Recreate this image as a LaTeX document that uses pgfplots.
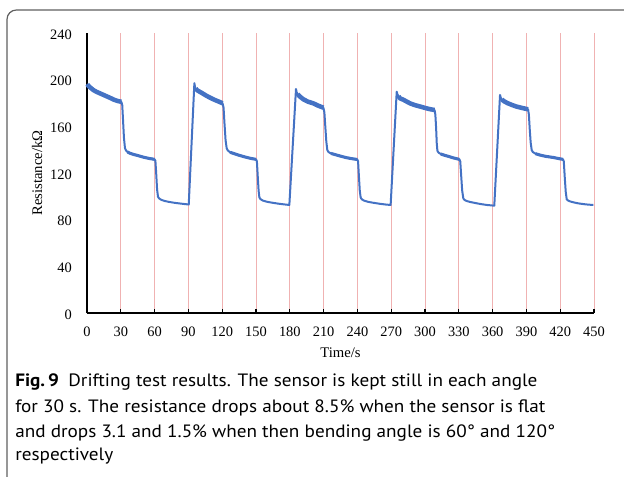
\documentclass[border=0pt]{standalone}
\usepackage{fontspec}
\setmainfont{Liberation Serif}
\newfontfamily\capfont{PT Sans}[FakeStretch=1.075]
\usepackage{pgfplots}
\pgfplotsset{compat=1.18}

\definecolor{curve}{RGB}{68,114,196}
\definecolor{pinkline}{RGB}{240,178,178}
\definecolor{framegray}{RGB}{95,95,95}
\newcommand{\capsize}{\capfont\fontsize{13.4}{16}\selectfont}

\begin{document}
\begin{tikzpicture}
% page is 624x476 px, 1 px = 0.75pt, y grows downward via negative values
\path[use as bounding box] (0,0) rectangle (468pt,-357pt);
\draw[framegray, line width=0.9pt, rounded corners=7pt]
  (5.25pt,-360pt) -- (5.25pt,-7.5pt) -- (472pt,-7.5pt);

\begin{axis}[
  at={(65.25pt,-234.75pt)},
  anchor=south west,
  scale only axis,
  width=380.25pt,
  height=210pt,
  xmin=0, xmax=450,
  ymin=0, ymax=240,
  axis lines*=left,
  axis line style={black, line width=0.9pt},
  xtick={0,30,...,450},
  ytick={0,40,...,240},
  tick align=inside,
  major tick length=3pt,
  x tick style={black, line width=0.8pt},
  y tick style={draw=none},
  xmajorgrids,
  grid style={pinkline, line width=0.75pt},
  tick label style={font=\fontsize{10.8}{12}\selectfont},
  /pgf/number format/assume math mode=true,
  xticklabel style={anchor=base, yshift=-17.4pt, inner sep=0pt},
  yticklabel style={anchor=east, xshift=-11.25pt, yshift=-1.2pt, inner sep=0pt},
  xlabel={Time/s},
  ylabel={Resistance/kΩ},
  label style={font=\fontsize{11}{13}\selectfont},
  xlabel style={at={(axis description cs:0.5,0)}, anchor=base, yshift=-33.5pt},
  ylabel style={at={(axis description cs:-0.0986,0.5)}, anchor=center, rotate=0},
  clip=false,
]
% full trace
\addplot[curve, line width=1.5pt, line join=round] coordinates {
  (0,196.3) (1,195) (2,194) (3.5,192.8) (5.5,191.2) (8,189.8) (11,188.5)
  (14.5,187) (18,185.5) (21,184.2) (24,182.8) (27,181.8) (30.5,181)
  (31.3,178) (32,165) (32.8,150) (33.7,141.4)
  (34.5,139.5) (36,138) (38,137) (41,136) (45,135) (50,133.6) (55,132.5)
  (60,131.7) (60.7,130.5)
  (61.4,120) (62.2,106) (63,99.7)
  (64,98.2) (66,97) (69,96) (73,95.2) (78,94.4) (84,93.7) (90.3,93)
  (95.3,197)
  (95.8,194) (96.5,192.3) (98,190.8) (100.3,189.5) (103,188) (106,186.2)
  (109.2,184.6) (113,182.8) (117,181.2) (120.3,179.8)
  (121.2,176) (122,163) (123,148) (124,141.1)
  (125,139.3) (127,137.8) (130,136.8) (135,135.2) (140,133.8) (145,132.6)
  (150,131.7) (150.8,130)
  (151.5,118) (152.3,105) (153,99.1)
  (154,97.6) (156,96.4) (159.5,95.4) (164,94.6) (170,93.7) (175,93.1) (179.6,92.6)
  (185.5,192)
  (186,189.5) (187,187.6) (189,185.5) (192,183.2) (196,181.2) (200.9,179.7)
  (205,177.8) (209.8,176)
  (210.7,172) (211.5,160) (212.4,147) (213.3,139.7)
  (214.3,138) (216.5,136.8) (221.6,135.4) (226,134.2) (230.5,133.1) (235,132.3)
  (239.9,131.6) (240.6,130)
  (241.3,118) (242.1,105) (242.9,98.9)
  (244,97.4) (246,96.3) (249.5,95.3) (254,94.5) (260,93.6) (265,93) (269.5,92.6)
  (274.9,189.7)
  (275.5,187.5) (276.5,185.8) (277.8,184) (280.8,182.8) (286.7,179.7) (291,178.2)
  (295.6,177) (300,175.8) (304,174.8) (308.5,174)
  (309.2,170) (309.9,158) (310.4,146) (311,139.1)
  (312,137.5) (314,136.3) (317,135.3) (321,134.2) (325,133) (330.5,131.7) (331.3,130)
  (332.1,118) (333,105) (334,98.3)
  (335,97) (337,96) (340,95.2) (345,94.2) (350,93.3) (355,92.6) (361.5,92)
  (366.6,186.9)
  (367.2,184.6) (368.2,183) (370,181.6) (373,180) (377,178.4) (381,177)
  (386,175.8) (391.5,174.6)
  (392.2,170) (393,157) (393.8,146) (394.7,139.7)
  (395.7,138) (398,136.6) (402,135.4) (407,134.3) (414,133.3) (418,132.5)
  (422.5,131.7) (423.2,130)
  (424,117) (424.9,104) (425.8,97.4)
  (427,96.4) (429,95.6) (432,94.8) (436,94) (441,93.3) (445,92.9) (449.4,92.6)
};
% noise band on the high-resistance stretches
\addplot[curve, line width=3.4pt, line join=round] coordinates {
  (0.3,196) (1,195) (2,194) (3.5,192.8) (5.5,191.2) (8,189.8) (11,188.5)
  (14.5,187) (18,185.5) (21,184.2) (24,182.8) (27,181.8) (30.5,181)
};
\addplot[curve, line width=3.4pt, line join=round] coordinates {
  (96.5,192.3) (98,190.8) (100.3,189.5) (103,188) (106,186.2)
  (109.2,184.6) (113,182.8) (117,181.2) (120.3,179.8)
};
\addplot[curve, line width=3.4pt, line join=round] coordinates {
  (187,187.6) (189,185.5) (192,183.2) (196,181.2) (200.9,179.7)
  (205,177.8) (209.8,176)
};
\addplot[curve, line width=3.4pt, line join=round] coordinates {
  (276.5,185.8) (277.8,184) (280.8,182.8) (286.7,179.7) (291,178.2)
  (295.6,177) (300,175.8) (304,174.8) (308.5,174)
};
\addplot[curve, line width=3.4pt, line join=round] coordinates {
  (368.2,183) (370,181.6) (373,180) (377,178.4) (381,177)
  (386,175.8) (391.5,174.6)
};
% medium band on the 60 degree stretches
\addplot[curve, line width=2.3pt, line join=round] coordinates {
  (36,138) (38,137) (41,136) (45,135) (50,133.6) (55,132.5) (60,131.7)
};
\addplot[curve, line width=2.3pt, line join=round] coordinates {
  (127,137.8) (130,136.8) (135,135.2) (140,133.8) (145,132.6) (150,131.7)
};
\addplot[curve, line width=2.3pt, line join=round] coordinates {
  (216.5,136.8) (221.6,135.4) (226,134.2) (230.5,133.1) (235,132.3) (239.9,131.6)
};
\addplot[curve, line width=2.3pt, line join=round] coordinates {
  (314,136.3) (317,135.3) (321,134.2) (325,133) (330.5,131.7)
};
\addplot[curve, line width=2.3pt, line join=round] coordinates {
  (398,136.6) (402,135.4) (407,134.3) (414,133.3) (418,132.5) (422.5,131.7)
};
\end{axis}

\node[anchor=base west, inner sep=0pt] at (11.25pt,-290pt)
  {\capsize\textbf{Fig.\,9}\hspace{7pt}Drifting test results. The sensor is kept still in each angle};
\node[anchor=base west, inner sep=0pt] at (11.25pt,-309.2pt)
  {\capsize for 30 s. The resistance drops about 8.5\% when the sensor is flat};
\node[anchor=base west, inner sep=0pt] at (11.25pt,-328pt)
  {\capsize and drops 3.1 and 1.5\% when then bending angle is 60° and 120°};
\node[anchor=base west, inner sep=0pt] at (11.25pt,-345.5pt)
  {\capsize respectively};
\end{tikzpicture}
\end{document}
